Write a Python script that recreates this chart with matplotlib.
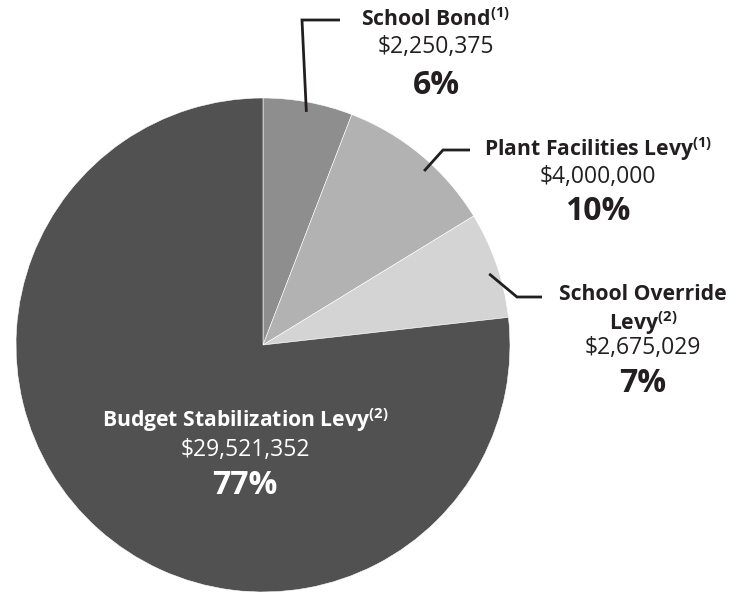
import matplotlib
matplotlib.use("Agg")
import matplotlib.pyplot as plt
import numpy as np

# ---- data ----
names = ["School Bond", "Plant Facilities Levy", "School Override\nLevy", "Budget Stabilization Levy"]
notes = ["(1)", "(1)", "(2)", "(2)"]
amounts = [2250375, 4000000, 2675029, 29521352]
pct_labels = ["6%", "10%", "7%", "77%"]
colors = ["#8e8e8e", "#b2b2b2", "#d4d4d4", "#515151"]

W, H = 741, 592
plt.rcParams['font.family'] = ['Open Sans', 'DejaVu Sans']
plt.rcParams['mathtext.fontset'] = 'custom'
plt.rcParams['mathtext.bf'] = 'Open Sans:bold'
plt.rcParams['mathtext.rm'] = 'Open Sans:bold'
plt.rcParams['mathtext.default'] = 'bf'

fig = plt.figure(figsize=(W / 100, H / 100), dpi=100)
ax = fig.add_axes([0, 0, 1, 1])
ax.axis('off')

def Y(y):
    return H - y

cx, cy, R = 263, 345, 247
wedges, _ = ax.pie(amounts, colors=colors, startangle=90, counterclock=False,
                   center=(cx, Y(cy)), radius=R,
                   wedgeprops=dict(edgecolor='white', linewidth=0.4))
ax.set_xlim(0, W)
ax.set_ylim(0, H)
ax.set_aspect('equal')
ax.axis('off')

txt = "#231f20"
bold_fs, reg_fs, pct_fs = 15.2, 16.5, 23

def label_block(x, ys, title, note, amount, pct, color):
    lines = title.split("\n")
    for i, ln in enumerate(lines):
        s = ln + (r"$^{" + note + "}$" if i == len(lines) - 1 else "")
        ax.text(x, Y(ys[i]), s, ha='center', va='center', fontsize=bold_fs,
                fontweight='bold', color=color)
    ax.text(x, Y(ys[len(lines)]), "\\${:,}".format(amount),
            ha='center', va='center', fontsize=reg_fs, color=color)
    ax.text(x, Y(ys[len(lines) + 1]), pct, ha='center', va='center', fontsize=pct_fs,
            fontweight='bold', color=color)

label_block(436, [20, 47, 86], names[0], notes[0], amounts[0], pct_labels[0], txt)
label_block(598, [149, 177, 212], names[1], notes[1], amounts[1], pct_labels[1], txt)
label_block(643, [295, 323, 348, 383], names[2], notes[2], amounts[2], pct_labels[2], txt)
label_block(245, [420, 450, 485], names[3], notes[3], amounts[3], pct_labels[3], 'white')

# leader lines: start inside each wedge, near the rim
def rim_point(w, shift=0.0, frac=0.96):
    a = np.deg2rad((w.theta1 + w.theta2) / 2 + shift)
    return cx + frac * R * np.cos(a), Y(cy) + frac * R * np.sin(a)

shifts = [0.0, -3.0, -1.5]
elbows = [[(302, 20), (340, 20)], [(443, 150), (470, 150)], [(517, 297), (542, 297)]]
for w, sh, el in zip(wedges[:3], shifts, elbows):
    x0, y0 = rim_point(w, sh)
    xs = [x0] + [p[0] for p in el]
    ys = [y0] + [Y(p[1]) for p in el]
    ax.plot(xs, ys, color=txt, lw=2, solid_capstyle='butt', solid_joinstyle='miter')

fig.savefig("out.png", dpi=100)
